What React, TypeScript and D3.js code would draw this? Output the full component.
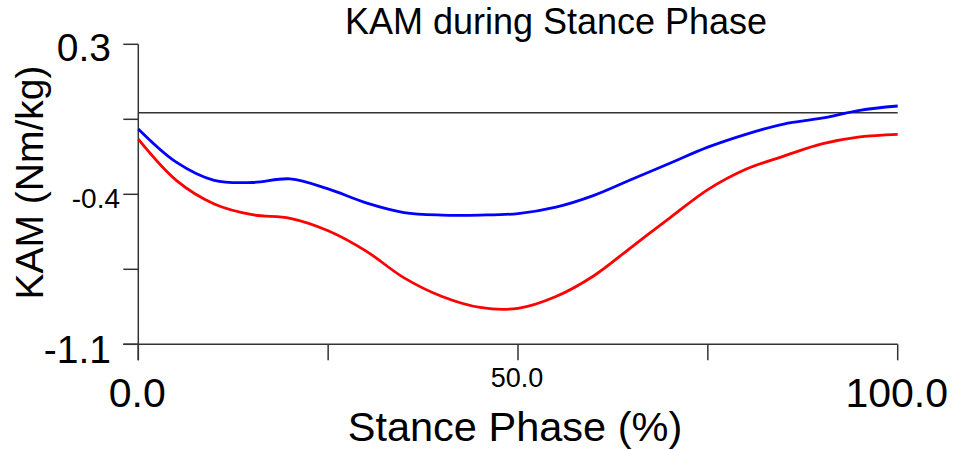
import React from "react";
import * as d3 from "d3";

const stancePct = [0, 5, 10, 15, 20, 25, 30, 35, 40, 45, 50, 55, 60, 65, 70, 75, 80, 85, 90, 95, 100];
const blueKAM = [-0.095, -0.25, -0.335, -0.345, -0.328, -0.375, -0.44, -0.485, -0.497, -0.497, -0.49, -0.46, -0.405, -0.33, -0.255, -0.18, -0.12, -0.072, -0.045, -0.008, 0.012];
const redKAM = [-0.143, -0.335, -0.445, -0.495, -0.512, -0.57, -0.665, -0.79, -0.877, -0.928, -0.932, -0.877, -0.78, -0.645, -0.51, -0.378, -0.283, -0.222, -0.165, -0.132, -0.12];
const refLineValue = -0.02;
const xTicks = [0, 25, 50, 75, 100];
const xTickLabels = ["0.0", "", "50.0", "", "100.0"];
const yTicks = [0.3, -0.05, -0.4, -0.75, -1.1];
const yTickLabels = ["0.3", "", "-0.4", "", "-1.1"];
const title = "KAM during Stance Phase";
const xTitle = "Stance Phase (%)";
const yTitle = "KAM (Nm/kg)";

const FONT = "'Liberation Sans', Arial, sans-serif";
const AX = "#333";

export default function App() {
  const x = d3.scaleLinear().domain([0, 100]).range([138.3, 897.7]);
  const y = d3.scaleLinear().domain([0.3, -1.1]).range([44.3, 344.3]);
  const line = d3
    .line<number>()
    .x((_, i) => x(stancePct[i]))
    .y((d) => y(d))
    .curve(d3.curveCatmullRom.alpha(0.5));

  const x0 = x(0);
  const yBottom = y(-1.1);
  const tickLen = 16;

  return (
    <svg
      width={954}
      height={450}
      style={{ position: "absolute", left: 0, top: 0, background: "#fff" }}
      fontFamily={FONT}
    >
      <rect width={954} height={450} fill="#fff" />
      <text x={556} y={34} fontSize={36} textAnchor="middle" fill="#000">
        {title}
      </text>

      {/* reference line */}
      <line x1={x(0)} x2={x(100)} y1={y(refLineValue)} y2={y(refLineValue)} stroke={AX} strokeWidth={1.5} />

      {/* y axis */}
      <line x1={x0} x2={x0} y1={y(0.3)} y2={yBottom + tickLen} stroke={AX} strokeWidth={1.5} />
      {yTicks.map((t, i) => (
        <line key={"yt" + i} x1={x0 - 15} x2={x0} y1={y(t)} y2={y(t)} stroke={AX} strokeWidth={1.5} />
      ))}
      {yTickLabels.map((lab, i) => {
        if (!lab) return null;
        const small = lab === "-0.4";
        const fs = small ? 28 : 39;
        const dy = small ? 13.5 : i === 0 ? 17 : 18.5;
        const xr = small ? 120 : 111;
        return (
          <text key={"yl" + i} x={xr} y={y(yTicks[i]) + dy} fontSize={fs} textAnchor="end" fill="#000">
            {lab}
          </text>
        );
      })}

      {/* x axis */}
      <line x1={x0 - 15} x2={x(100)} y1={yBottom} y2={yBottom} stroke={AX} strokeWidth={1.5} />
      {xTicks.map((t, i) => (
        <line key={"xt" + i} x1={x(t)} x2={x(t)} y1={yBottom} y2={yBottom + tickLen} stroke={AX} strokeWidth={1.5} />
      ))}
      {xTickLabels.map((lab, i) => {
        if (!lab) return null;
        const small = lab === "50.0";
        return (
          <text
            key={"xl" + i}
            x={x(xTicks[i]) - 1}
            y={small ? 387 : 406.5}
            fontSize={small ? 27 : 41}
            textAnchor="middle"
            fill="#000"
          >
            {lab}
          </text>
        );
      })}

      <text x={515} y={441} fontSize={41.5} textAnchor="middle" fill="#000">
        {xTitle}
      </text>
      <text
        transform={`translate(43,182.5) rotate(-90)`}
        fontSize={39}
        textAnchor="middle"
        fill="#000"
      >
        {yTitle}
      </text>

      <path d={line(redKAM) || ""} fill="none" stroke="#ff0000" strokeWidth={2.8} />
      <path d={line(blueKAM) || ""} fill="none" stroke="#0000ff" strokeWidth={2.8} />
    </svg>
  );
}
